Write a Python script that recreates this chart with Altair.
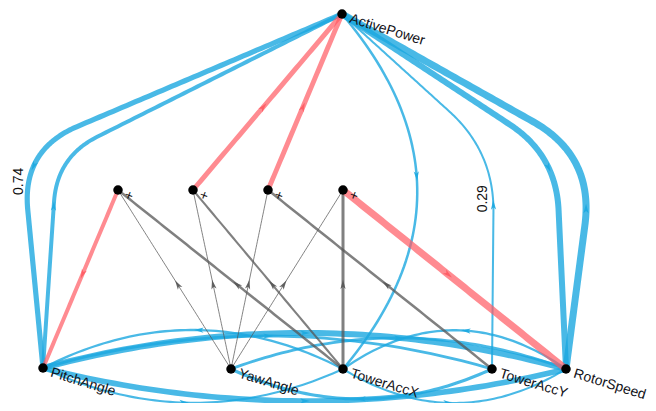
import math
import altair as alt
import numpy as np
import pandas as pd

# ---------------- data ----------------
nodes = ["ActivePower", "PitchAngle", "YawAngle", "TowerAccX", "TowerAccY",
         "RotorSpeed", "int1", "int2", "int3", "int4"]
node_text = ["ActivePower", "PitchAngle", "YawAngle", "TowerAccX", "TowerAccY",
             "RotorSpeed", "", "", "", ""]
node_sign = ["", "", "", "", "", "", "+", "+", "+", "+"]

edge_from = ["ActivePower", "PitchAngle", "RotorSpeed", "ActivePower", "ActivePower", "TowerAccY",
             "PitchAngle", "TowerAccX", "RotorSpeed", "YawAngle", "PitchAngle",
             "PitchAngle", "PitchAngle", "TowerAccX", "TowerAccY",
             "YawAngle", "TowerAccX", "YawAngle", "TowerAccX",
             "YawAngle", "TowerAccY", "YawAngle", "TowerAccX",
             "int1", "int2", "int3", "int4"]
edge_to = ["PitchAngle", "ActivePower", "ActivePower", "RotorSpeed", "TowerAccX", "ActivePower",
           "RotorSpeed", "PitchAngle", "TowerAccX", "RotorSpeed", "TowerAccY",
           "RotorSpeed", "TowerAccX", "RotorSpeed", "YawAngle",
           "int1", "int1", "int2", "int2",
           "int3", "int3", "int4", "int4",
           "PitchAngle", "ActivePower", "ActivePower", "RotorSpeed"]
edge_weight = [0.74, 0.57, 1.0, 0.86, 0.36, 0.29,
               0.86, 0.33, 0.33, 0.40, 0.40,
               0.80, 0.30, 0.30, 0.45,
               0.14, 0.36, 0.14, 0.30,
               0.14, 0.36, 0.14, 0.43,
               0.57, 0.70, 0.70, 1.0]
edge_type = ["temporal"] * 15 + ["input"] * 8 + ["interaction"] * 4
edge_label = ["0.74", "", "", "", "", "0.29"] + [""] * 21

# ---------------- layout (node placement and edge bends) ----------------
node_xy = {
    "ActivePower": (342, 14), "PitchAngle": (43, 368), "YawAngle": (231, 369),
    "TowerAccX": (343, 369), "TowerAccY": (492, 369), "RotorSpeed": (566, 369),
    "int1": (118, 190), "int2": (193, 190), "int3": (268, 190), "int4": (343, 190),
}
BIG = 1e4
edge_bend = [
    dict(via=(22, 150), r=60, arrow=0.63, label=0.66),
    dict(via=(57, 157), r=45, arrow=0.31),
    dict(via=(594, 156), r=70, arrow=0.33),
    dict(via=(556, 155), r=55, arrow=0.56),
    dict(via=(492, 191), r=BIG, arrow=0.46),
    dict(via=(494, 152), r=60, arrow=0.394, label=0.41),
    dict(via=(305, 297.5), r=BIG, arrow=0.5),
    dict(via=(193, 291.5), r=BIG, arrow=0.48),
    dict(via=(454, 291.5), r=BIG, arrow=0.45),
    dict(via=(398, 307), r=BIG, arrow=0.5),
    dict(via=(267, 303.5), r=BIG, arrow=0.5),
    dict(via=(305, 433.5), r=BIG, arrow=0.5),
    dict(via=(193, 437), r=BIG, arrow=0.47),
    dict(via=(454, 437), r=BIG, arrow=0.47),
    dict(via=(361, 429), r=BIG, arrow=0.5),
] + [None] * 12


def edge_path(p0, p2, bend, n=60):
    p0 = np.array(p0, float)
    p2 = np.array(p2, float)
    t = np.linspace(0, 1, n)[:, None]
    if bend is None:
        return p0 + t * (p2 - p0)
    v = np.array(bend["via"], float)
    d1 = p0 - v
    l1 = np.hypot(*d1)
    d2 = p2 - v
    l2 = np.hypot(*d2)
    r = bend["r"]
    a = v + d1 / l1 * min(r, l1)
    b = v + d2 / l2 * min(r, l2)
    seg1 = p0 + t * (a - p0)
    quad = (1 - t) ** 2 * a + 2 * t * (1 - t) * v + t ** 2 * b
    seg2 = b + t * (p2 - b)
    pts = np.vstack([seg1, quad, seg2])
    keep = [0]
    for i in range(1, len(pts)):
        if np.hypot(*(pts[i] - pts[keep[-1]])) > 1e-6:
            keep.append(i)
    return pts[keep]


def point_at(pts, f):
    seg = np.hypot(*np.diff(pts, axis=0).T)
    cum = np.concatenate([[0], np.cumsum(seg)])
    s = f * cum[-1]
    x = float(np.interp(s, cum, pts[:, 0]))
    y = float(np.interp(s, cum, pts[:, 1]))
    j = int(min(max(np.searchsorted(cum, s), 1), len(pts) - 1))
    dx, dy = pts[j] - pts[j - 1]
    return x, y, dx, dy


line_rows, arrow_rows, elabel_rows = [], [], []
for i in range(len(edge_from)):
    bend = edge_bend[i]
    pts = edge_path(node_xy[edge_from[i]], node_xy[edge_to[i]], bend)
    for j, (x, y) in enumerate(pts):
        line_rows.append(dict(edge=i, i=j, x=x, y=y, type=edge_type[i], weight=edge_weight[i]))
    fa = bend["arrow"] if bend else 0.47
    ax, ay, dx, dy = point_at(pts, fa)
    ang = math.degrees(math.atan2(dx, -dy)) % 360
    arrow_rows.append(dict(edge=i, x=ax, y=ay, angle=ang, type=edge_type[i]))
    if edge_label[i]:
        lx, ly, _, _ = point_at(pts, bend.get("label", fa))
        elabel_rows.append(dict(x=lx - 10, y=ly, text=edge_label[i]))

lines = pd.DataFrame(line_rows)
arrows = pd.DataFrame(arrow_rows)
elabels = pd.DataFrame(elabel_rows)
nodes_df = pd.DataFrame(dict(
    name=nodes, text=node_text, sign=node_sign,
    x=[node_xy[n][0] for n in nodes], y=[node_xy[n][1] for n in nodes]))

W, H = 640, 395
xs = alt.Scale(domain=[8, 8 + W], nice=False, zero=False)
ys = alt.Scale(domain=[8, 8 + H], nice=False, zero=False, reverse=True)
X = alt.X("x:Q", scale=xs, axis=None)
Y = alt.Y("y:Q", scale=ys, axis=None)

type_dom = ["temporal", "input", "interaction"]
line_color = alt.Color("type:N", scale=alt.Scale(domain=type_dom,
                       range=["#1ca8e0", "#555555", "#ff5a62"]), legend=None)
line_op = alt.Opacity("type:N", scale=alt.Scale(domain=type_dom, range=[0.8, 0.7, 0.85]), legend=None)
sw = alt.StrokeWidth("weight:Q", scale=alt.Scale(domain=[0, 1], range=[0, 7]), legend=None)


def line_layer(kind):
    return alt.Chart(lines).transform_filter(alt.datum.type == kind).mark_line(
        strokeCap="butt", strokeJoin="round").encode(
        x=X, y=Y, detail="edge:N", order="i:Q", color=line_color, opacity=line_op, strokeWidth=sw)


arrow_shape = "M0,-1L0.5,0.8L0,0.35L-0.5,0.8Z"
arrow_layer = alt.Chart(arrows).mark_point(shape=arrow_shape, filled=True, size=110, strokeWidth=0).encode(
    x=X, y=Y, angle=alt.Angle("angle:Q", scale=None),
    color=alt.Color("type:N", scale=alt.Scale(domain=type_dom,
                    range=["#0e8fca", "#444444", "#f0404c"]), legend=None),
    opacity=alt.value(0.9))

node_layer = alt.Chart(nodes_df).mark_circle(size=90, color="black", opacity=1).encode(x=X, y=Y)

label_layer = alt.Chart(nodes_df).transform_filter(alt.datum.text != "").mark_text(
    angle=17, align="left", baseline="middle", dx=9, dy=2, fontSize=14,
    font="Liberation Sans", color="#121218").encode(x=X, y=Y, text="text:N")

sign_layer = alt.Chart(nodes_df).transform_filter(alt.datum.sign != "").mark_text(
    angle=20, align="center", baseline="middle", dx=12, dy=2, fontSize=14,
    font="Liberation Sans", color="#111111").encode(x=X, y=Y, text="sign:N")

elabel_layer = alt.Chart(elabels).mark_text(
    angle=270, align="center", baseline="middle", fontSize=14,
    font="Liberation Sans", color="#111111").encode(x=X, y=Y, text="text:N")

chart = alt.layer(
    line_layer("temporal"), line_layer("input"), line_layer("interaction"),
    arrow_layer, node_layer, label_layer, sign_layer, elabel_layer
).properties(width=W, height=H, padding=0,
             autosize=alt.AutoSizeParams(type="none")
).configure_view(stroke=None)

chart.save("out.html", embed_options={"renderer": "svg", "actions": False})
